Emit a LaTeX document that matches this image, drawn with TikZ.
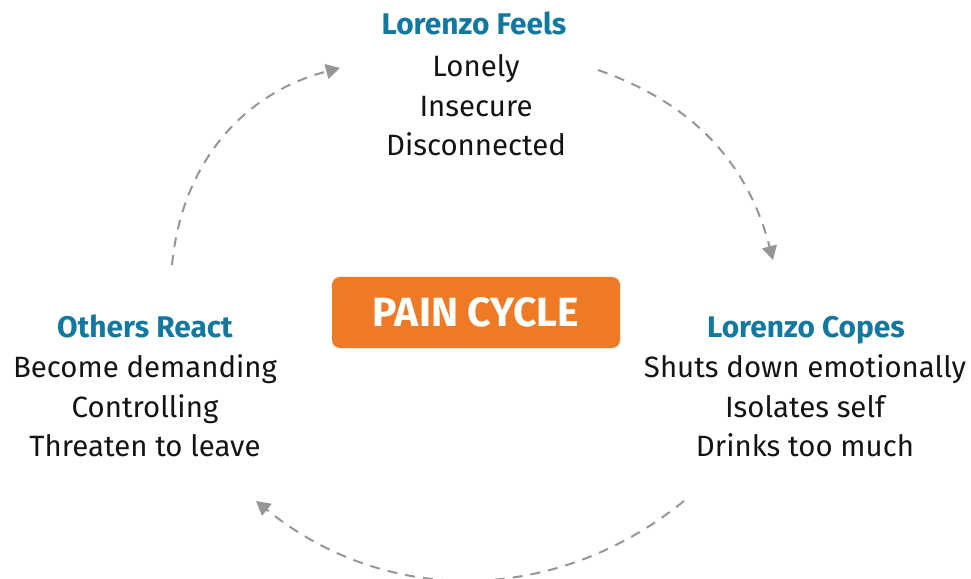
\documentclass[tikz,border=0pt]{standalone}
\usepackage{fontspec}
\setmainfont{Fira Sans}
\usetikzlibrary{arrows.meta}
\definecolor{painorange}{RGB}{239,122,38}
\definecolor{headblue}{RGB}{18,120,160}
\definecolor{arrowgray}{RGB}{150,150,150}
\definecolor{bodytext}{RGB}{20,20,20}
\begin{document}
\begin{tikzpicture}[x=1bp,y=-1bp,
  head/.style={font=\fontsize{30}{34}\selectfont\bfseries, text=headblue, anchor=base, inner sep=0pt},
  item/.style={font=\fontsize{29.5}{34}\selectfont, text=bodytext, anchor=base, inner sep=0pt},
  cyc/.style={draw=arrowgray, line width=2bp, dash pattern=on 10bp off 8bp,
    -{Triangle[length=14bp,width=15bp]}}
]
\useasboundingbox (0,0) rectangle (971,579);

% top block
\node[head] (f0) at (474,35) {Lorenzo Feels};
\node[item] (f1) at (476,76.5) {Lonely};
\node[item] (f2) at (476,116.5) {Insecure};
\node[item] (f3) at (476,156) {Disconnected};

% right block
\node[head] (c0) at (806,337) {Lorenzo Copes};
\node[item] (c1) at (805,377.5) {Shuts down emotionally};
\node[item] (c2) at (805,417) {Isolates self};
\node[item] (c3) at (805,456.5) {Drinks too much};

% left block
\node[head] (r0) at (145,337) {Others React};
\node[item] (r1) at (145,377.5) {Become demanding};
\node[item] (r2) at (145,417) {Controlling};
\node[item] (r3) at (145,456.5) {Threaten to leave};

% centre
\node[fill=painorange, rounded corners=8bp, minimum width=288bp, minimum height=71bp,
  text=white, font=\fontsize{41}{44}\selectfont\bfseries, inner sep=0pt] (pain) at (476,312.5) {PAIN CYCLE};

% connectors
\coordinate (a1s) at (172,265); \coordinate (a1e) at (340,68);
\coordinate (a2s) at (598,70);  \coordinate (a2e) at (773,260);
\coordinate (a3s) at (684,501); \coordinate (a3e) at (256,501);
\draw[cyc] (a1s) to[bend left=35] (a1e);
\draw[cyc] (a2s) to[bend left=28] (a2e);
\draw[cyc] (a3s) to[bend left=39] (a3e);
\end{tikzpicture}
\end{document}
